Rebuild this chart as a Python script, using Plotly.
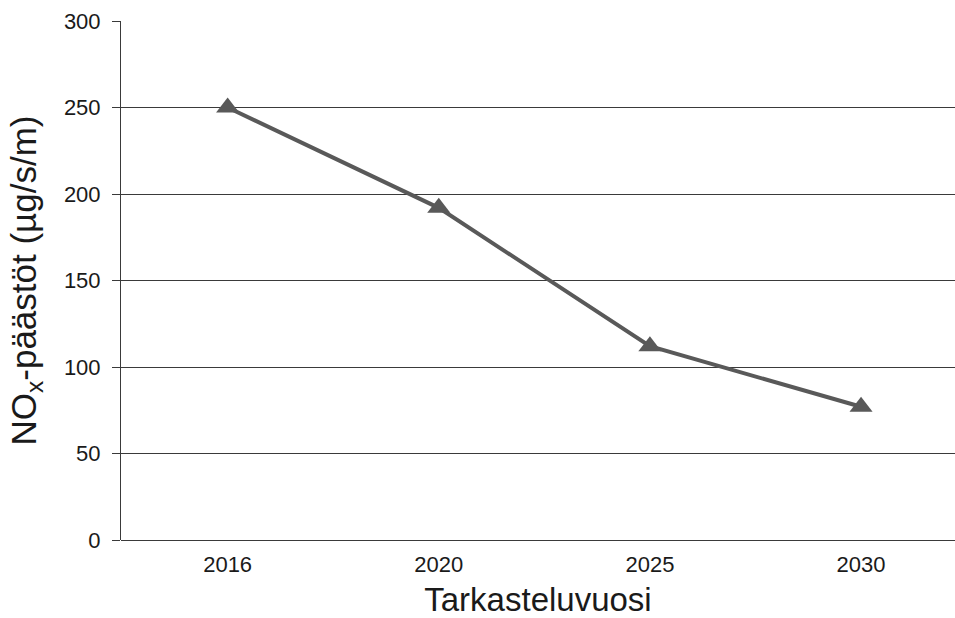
import plotly.graph_objects as go

years = ["2016", "2020", "2025", "2030"]
nox = [250, 192, 112, 77]
y_ticks = [0, 50, 100, 150, 200, 250, 300]

fig = go.Figure()
fig.add_trace(go.Scatter(
    x=years, y=nox, mode="lines+markers",
    line=dict(color="#595959", width=4),
    marker=dict(symbol="triangle-up", size=20, color="#595959"),
    showlegend=False,
))

font = "Liberation Sans, Arial, sans-serif"
fig.update_layout(
    width=955, height=618,
    margin=dict(l=121, r=0, t=21, b=78),
    paper_bgcolor="white", plot_bgcolor="white",
    font=dict(family=font, color="#1a1a1a"),
    xaxis=dict(
        type="category", range=[-0.505, 3.445],
        automargin=False,
        showgrid=False, showline=False, zeroline=False,
        ticks="", tickfont=dict(size=22, family=font, color="#1a1a1a"),
        ticklabelstandoff=9,
        title=dict(text="Tarkasteluvuosi", font=dict(size=33, family=font, color="#1a1a1a"), standoff=20),
    ),
    yaxis=dict(
        range=[0, 300], tickvals=y_ticks,
        automargin=False,
        showgrid=True, gridcolor="#3a3a3a", gridwidth=1,
        zeroline=True, zerolinecolor="#3a3a3a", zerolinewidth=1,
        showline=True, linecolor="#3a3a3a", linewidth=1,
        ticks="outside", ticklen=8, tickcolor="#3a3a3a",
        tickfont=dict(size=22, family=font, color="#1a1a1a"),
        ticklabelstandoff=7,
        title=dict(text="NO<sub>x</sub>-päästöt (µg/s/m)", font=dict(size=35, family=font, color="#1a1a1a"), standoff=16),
    ),
)

fig.write_html(
    "out.html",
    config={"displayModeBar": False},
    post_script="document.body.style.margin='0';document.body.style.overflow='hidden';",
)
